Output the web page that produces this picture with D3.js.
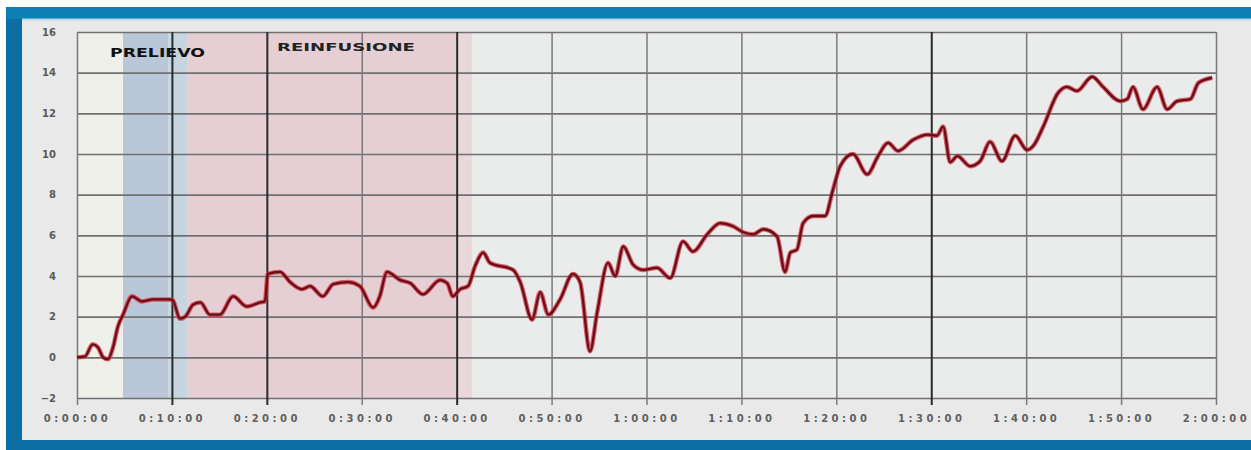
<!DOCTYPE html>
<html>
<head>
<meta charset="utf-8">
<script src="https://cdn.jsdelivr.net/npm/d3@7"></script>
<style>
	body { margin: 0; background: #ffffff; }
	svg { display: block; }
</style>
</head>
<body>
<div id="chart"></div>
<script>
// minuti dall'inizio e valore
var times = [0, 0.85, 1.65, 2.2, 2.75, 3.25, 3.8, 4.3, 4.85, 5.8, 6.85, 8.0, 9.8, 10.1, 10.85, 11.4,
	12.25, 13.0, 14.0, 15.05, 16.45, 17.9, 19.3, 19.8, 20.1, 21.4, 22.45, 23.7, 24.55, 25.9, 27.0,
	28.55, 29.8, 31.2, 31.9, 32.65, 34.05, 35.1, 36.45, 38.25, 39.0, 39.6, 40.35, 41.2, 41.95, 42.8,
	43.5, 45.95, 46.7, 47.95, 48.8, 49.65, 50.9, 52.25, 53.0, 54.05, 54.8, 55.95, 56.7, 57.55, 58.6,
	59.65, 61.1, 62.5, 63.85, 64.9, 66.4, 67.75, 69.1, 70.2, 71.25, 72.3, 73.75, 74.6, 75.15, 75.85,
	76.5, 77.55, 78.8, 79.65, 80.4, 81.75, 83.25, 84.4, 85.45, 86.5, 88.1, 89.65, 90.6, 91.25, 92.0,
	92.75, 94.1, 95.15, 96.2, 97.45, 98.85, 100.1, 100.75, 101.8, 103.35, 104.3, 105.35, 106.95,
	108.1, 109.9, 110.65, 111.25, 112.3, 113.8, 114.85, 115.9, 117.3, 118.15, 119.6]
var values = [0, 0.05, 0.64, 0.5, 0, -0.1, 0.5, 1.5, 2.1, 3.0, 2.75, 2.85, 2.85, 2.8, 1.9, 2.0,
	2.6, 2.7, 2.1, 2.1, 3.0, 2.5, 2.7, 2.75, 4.1, 4.2, 3.7, 3.35, 3.5, 3.0, 3.6,
	3.7, 3.5, 2.45, 3.0, 4.2, 3.8, 3.65, 3.1, 3.8, 3.65, 3.0, 3.35, 3.5, 4.5, 5.15,
	4.65, 4.3, 3.7, 1.85, 3.2, 2.1, 2.85, 4.1, 3.7, 0.3, 2.2, 4.65, 4.0, 5.45, 4.55,
	4.3, 4.4, 3.9, 5.7, 5.2, 6.05, 6.6, 6.45, 6.15, 6.05, 6.3, 5.95, 4.2, 5.15, 5.3,
	6.6, 6.95, 6.95, 8.25, 9.4, 10.0, 9.0, 9.9, 10.55, 10.15, 10.7, 10.95, 10.9, 11.35, 9.6,
	9.9, 9.4, 9.65, 10.6, 9.65, 10.9, 10.2, 10.4, 11.35, 13.0, 13.3, 13.1, 13.8,
	13.3, 12.6, 12.7, 13.3, 12.2, 13.3, 12.2, 12.6, 12.7, 13.5, 13.75]

var yTicks = [-2, 0, 2, 4, 6, 8, 10, 12, 14, 16]
var xTicks = [0, 10, 20, 30, 40, 50, 60, 70, 80, 90, 100, 110, 120]
var xTickLabels = ["0:00:00", "0:10:00", "0:20:00", "0:30:00", "0:40:00", "0:50:00", "1:00:00",
	"1:10:00", "1:20:00", "1:30:00", "1:40:00", "1:50:00", "2:00:00"]
var darkLines = [10, 20, 40, 90]

// fasi: inizio, fine (minuti), colore
var phaseNames = ["PRELIEVO", "REINFUSIONE"]
var phaseStart = [0, 4.85, 9.6, 11.6, 40.0, 41.6]
var phaseEnd = [4.85, 9.6, 11.6, 40.0, 41.6, 120]
var phaseColors = ["#f0f0ea", "#b9c7d9", "#c6d6e0", "#e6cfd4", "#e9d7da", "#eaebeb"]

drawChart()

function drawChart() {

	var svg = d3.select("#chart")
		.append("svg")
		.attr("width", 1251)
		.attr("height", 450)

	// cornice blu
	svg.append("rect")
		.attr("x", 6).attr("y", 7)
		.attr("width", 1245).attr("height", 443)
		.style("fill", "#0b6fa3")
	svg.append("rect")
		.attr("x", 6).attr("y", 7)
		.attr("width", 1245).attr("height", 12)
		.style("fill", "#0c80b2")
	svg.append("rect")
		.attr("x", 22).attr("y", 19)
		.attr("width", 1229).attr("height", 421)
		.style("fill", "#e9e9e9")
	svg.append("line")
		.attr("x1", 22).attr("x2", 1251)
		.attr("y1", 19.5).attr("y2", 19.5)
		.style("stroke", "#b5dcea")
		.style("stroke-width", 2)

	var xScale = d3.scaleLinear()
		.domain([0, 120])
		.range([77, 1216])

	var yScale = d3.scaleLinear()
		.domain([-2, 16])
		.range([398, 32])

	// sfondo delle fasi
	svg.append("g")
		.attr("class", "phases")
		.selectAll("rect")
		.data(phaseStart)
		.enter()
		.append("rect")
		.attr("x", (d) => xScale(d))
		.attr("y", yScale(16))
		.attr("width", (d, i) => xScale(phaseEnd[i]) - xScale(d))
		.attr("height", yScale(-2) - yScale(16))
		.style("fill", (d, i) => phaseColors[i])

	// griglia orizzontale
	var gY = svg.append("g")
		.attr("class", "VerticalAxis")
		.attr("transform", `translate(${xScale(0)},0)`)
		.call(d3.axisLeft(yScale).tickValues(yTicks).tickSize(7).tickFormat(d3.format("d")))
	gY.select(".domain").remove()
	gY.selectAll(".tick line")
		.attr("x2", xScale(120) - xScale(0))
		.style("stroke", "#707070")
		.style("stroke-width", 1.6)
	gY.selectAll(".tick text")
		.attr("x", -21)
		.style("font-family", "DejaVu Sans")
		.style("font-size", "10px")
		.style("font-weight", "bold")
		.style("fill", "#5a5a5a")

	// griglia verticale
	var gX = svg.append("g")
		.attr("class", "HorizontalAxis")
		.attr("transform", `translate(0,${yScale(-2)})`)
		.call(d3.axisBottom(xScale).tickValues(xTicks).tickSize(7)
			.tickFormat((d, i) => xTickLabels[i]))
	gX.select(".domain").remove()
	gX.selectAll(".tick line")
		.attr("y1", yScale(16) - yScale(-2))
		.style("stroke", (d) => darkLines.indexOf(d) >= 0 ? "#2a2a2a" : "#7a7a7a")
		.style("stroke-width", (d) => darkLines.indexOf(d) >= 0 ? 2 : 1.5)
	gX.selectAll(".tick text")
		.attr("y", 17)
		.style("font-family", "DejaVu Sans")
		.style("font-size", "10px")
		.style("font-weight", "bold")
		.style("letter-spacing", "3.5px")
		.style("fill", "#5f5f5f")

	// etichette delle fasi
	svg.append("text")
		.attr("x", 110)
		.attr("y", 57)
		.attr("textLength", 95)
		.attr("lengthAdjust", "spacingAndGlyphs")
		.text(phaseNames[0])
		.style("font-family", "DejaVu Sans")
		.style("font-size", "13px")
		.style("font-weight", "bold")
		.style("fill", "#111")
	svg.append("text")
		.attr("x", 277)
		.attr("y", 51)
		.attr("textLength", 138)
		.attr("lengthAdjust", "spacingAndGlyphs")
		.text(phaseNames[1])
		.style("font-family", "DejaVu Sans")
		.style("font-size", "10px")
		.style("font-weight", "bold")
		.style("fill", "#222")

	var line = d3.line()
		.curve(d3.curveMonotoneX)
		.x((d) => xScale(d))
		.y((d, i) => yScale(values[i]))

	svg.append("path")
		.attr("d", line(times))
		.attr("stroke", "#d2323c")
		.attr("stroke-width", 4.5)
		.attr("stroke-opacity", 0.75)
		.attr("fill", "none")
	svg.append("path")
		.attr("d", line(times))
		.attr("stroke", "#6a0d18")
		.attr("stroke-width", 2.3)
		.attr("fill", "none")
}
</script>
</body>
</html>
